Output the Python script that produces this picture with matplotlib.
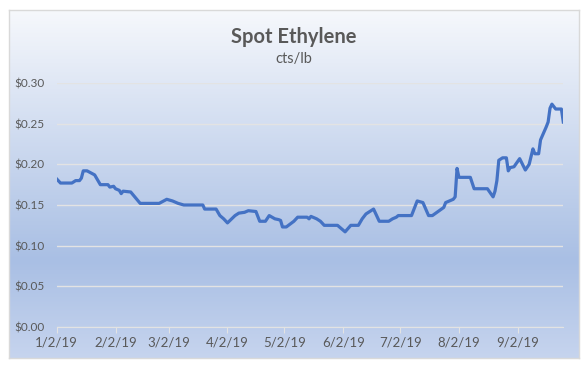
import numpy as np
import pandas as pd
import matplotlib
matplotlib.use("Agg")
import matplotlib.pyplot as plt
import matplotlib.dates as mdates
from matplotlib.ticker import FuncFormatter
from matplotlib.colors import LinearSegmentedColormap

# days after 1/2/19 and spot price ($/lb)
start = "2019-01-02"
day = [0, 2, 8, 10, 12, 13, 14, 16, 20, 23, 27, 28, 30, 31, 33, 34, 35, 39,
       44, 54, 58, 61, 64, 67, 77, 78, 84, 86, 88, 90, 94, 96, 99, 101, 105,
       107, 110, 112, 115, 117, 118, 119, 121, 125, 127, 132, 133, 134, 137,
       139, 141, 148, 152, 155, 159, 161, 163, 167, 170, 175, 177, 179, 180,
       187, 190, 193, 196, 198, 201, 204, 205, 209, 210, 211, 212, 218, 220,
       227, 230, 231, 232, 233, 235, 237, 238, 239, 241, 244, 247, 249, 251,
       252, 254, 255, 258, 259, 260, 261, 263, 266, 267]
price = [0.182, 0.177, 0.177, 0.180, 0.180, 0.183, 0.192, 0.192, 0.187, 0.175,
         0.175, 0.172, 0.173, 0.170, 0.168, 0.164, 0.167, 0.166, 0.152, 0.152,
         0.157, 0.155, 0.152, 0.150, 0.150, 0.145, 0.145, 0.137, 0.133, 0.128,
         0.137, 0.140, 0.141, 0.143, 0.142, 0.130, 0.130, 0.137, 0.133, 0.132,
         0.131, 0.123, 0.123, 0.130, 0.135, 0.135, 0.133, 0.136, 0.133, 0.130,
         0.125, 0.125, 0.117, 0.125, 0.125, 0.133, 0.139, 0.145, 0.130, 0.130,
         0.133, 0.135, 0.137, 0.137, 0.155, 0.153, 0.137, 0.137, 0.142, 0.147,
         0.153, 0.157, 0.160, 0.195, 0.184, 0.184, 0.170, 0.170, 0.160, 0.167,
         0.180, 0.205, 0.208, 0.208, 0.192, 0.196, 0.197, 0.207, 0.193, 0.200,
         0.219, 0.213, 0.213, 0.230, 0.246, 0.252, 0.269, 0.274, 0.268, 0.268,
         0.252]
tick_dates = ["2019-01-02", "2019-02-02", "2019-03-02", "2019-04-02", "2019-05-02",
              "2019-06-02", "2019-07-02", "2019-08-02", "2019-09-02"]
yticks = [0.00, 0.05, 0.10, 0.15, 0.20, 0.25, 0.30]

dates = pd.Timestamp(start) + pd.to_timedelta(day, unit="D")

plt.rcParams['font.family'] = ['Lato', 'DejaVu Sans']
txt = '#595959'

fig = plt.figure(figsize=(5.86, 3.69), dpi=100)
W, H = 586, 369

# chart area with gradient fill
bg = fig.add_axes([9 / W, 1 - 358 / H, 570 / W, 348 / H])
cmap = LinearSegmentedColormap.from_list(
    'g', [(0, '#f6f8fc'), (0.72, '#a9bfe4'), (1.0, '#c6d4ee')])
grad = np.linspace(0, 1, 256).reshape(-1, 1)
bg.imshow(grad, aspect='auto', cmap=cmap, extent=[0, 1, 1, 0])
bg.set_xticks([])
bg.set_yticks([])
for s in bg.spines.values():
    s.set_color('#d9d9d9')
    s.set_linewidth(1)

ax = fig.add_axes([56.7 / W, 1 - 327 / H, 506.6 / W, 244 / H])
ax.patch.set_alpha(0)
ax.plot(dates, price, color='#4472c4', lw=2.3, solid_joinstyle='round')
ax.set_ylim(0, 0.30)
ax.set_xlim(pd.Timestamp(start), dates[-1])
ax.set_yticks(yticks)
ax.yaxis.set_major_formatter(FuncFormatter(lambda v, p: f"${v:.2f}"))
ax.set_xticks(pd.to_datetime(tick_dates))
ax.xaxis.set_major_formatter(FuncFormatter(
    lambda v, p: f"{mdates.num2date(v).month}/{mdates.num2date(v).day}/19"))
ax.grid(axis='y', color='#e3e3e3', lw=1)
ax.set_axisbelow(True)
for s in ['top', 'right', 'left']:
    ax.spines[s].set_visible(False)
ax.spines['bottom'].set_color('#e3e3e3')
ax.tick_params(axis='y', length=0, pad=9, labelsize=8.5, labelcolor=txt)
ax.tick_params(axis='x', length=4, color='#e3e3e3', pad=3, labelsize=9.5, labelcolor=txt)

fig.text(294 / W, 1 - 37 / H, 'Spot Ethylene', ha='center', va='center',
         fontsize=14.5, fontweight='bold', color=txt)
fig.text(294 / W, 1 - 59 / H, 'cts/lb', ha='center', va='center',
         fontsize=10.5, color=txt)

fig.savefig('out.png', dpi=100)
